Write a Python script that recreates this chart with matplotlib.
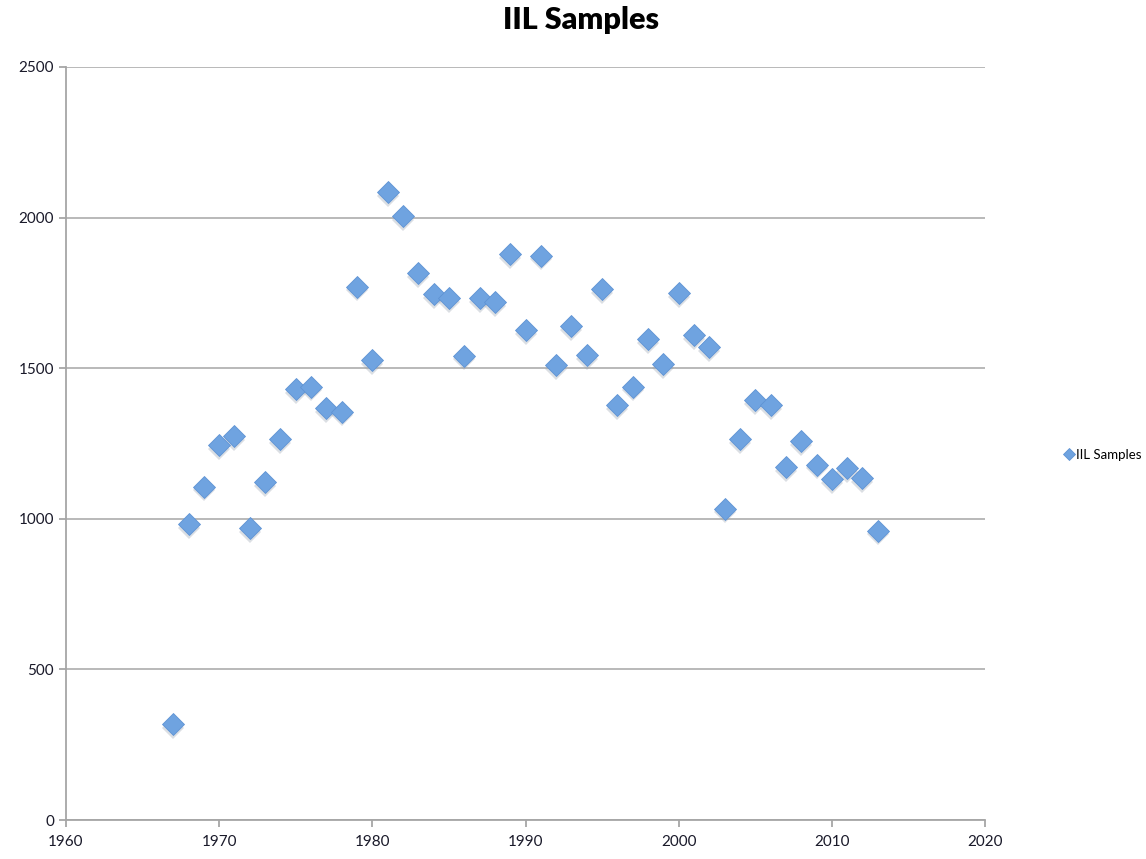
import matplotlib
matplotlib.use("Agg")
import matplotlib.pyplot as plt

years = list(range(1967, 2014))
samples = [319, 983, 1106, 1245, 1275, 969, 1122, 1265, 1431, 1438,
           1368, 1355, 1770, 1527, 2085, 2005, 1816, 1746, 1733, 1541,
           1733, 1720, 1879, 1627, 1873, 1511, 1640, 1544, 1763, 1378,
           1438, 1597, 1514, 1750, 1610, 1570, 1033, 1265, 1394, 1378,
           1172, 1258, 1179, 1132, 1169, 1135, 960]
xticks = [1960, 1970, 1980, 1990, 2000, 2010, 2020]
yticks = [0, 500, 1000, 1500, 2000, 2500]

plt.rcParams['font.family'] = ['Lato', 'DejaVu Sans']

fig = plt.figure(figsize=(11.46, 8.59), dpi=100)
ax = fig.add_axes([66/1146, 39/859, (985-66)/1146, (820-67)/859])

# shadow
ax.plot(years, [v - 12 for v in samples], linestyle='none', marker='D', markersize=11,
        color='#9aa4b0', alpha=0.35, markeredgewidth=0, zorder=2)
ax.plot(years, samples, linestyle='none', marker='D', markersize=11,
        color='#6fa3e0', markeredgecolor='#5f93d4', markeredgewidth=0.6,
        label='IIL Samples', zorder=3)

ax.set_xlim(1960, 2020)
ax.set_ylim(0, 2500)
ax.set_xticks(xticks)
ax.set_yticks(yticks)
ax.yaxis.grid(True, color='#b3b3b3', linewidth=1.3)
ax.set_axisbelow(True)
for s in ['top', 'right']:
    ax.spines[s].set_visible(False)
for s in ['left', 'bottom']:
    ax.spines[s].set_color('#a6a6a6')
    ax.spines[s].set_linewidth(1.3)
ax.tick_params(axis='both', colors='#a6a6a6', length=5, width=1.3, labelsize=11,
               labelcolor='#1a1a2a')
ax.tick_params(axis='x', pad=6)

fig.text(581/1146, 1 - 20/859, 'IIL Samples', fontsize=22, fontweight='heavy',
         ha='center', va='center')

leg = ax.legend(loc='center left', bbox_to_anchor=(1.084, 0.485), frameon=False,
                fontsize=9.5, handletextpad=0.05, markerscale=0.55, handlelength=1.0,
                borderaxespad=0, borderpad=0)

fig.savefig('out.png', dpi=100)
